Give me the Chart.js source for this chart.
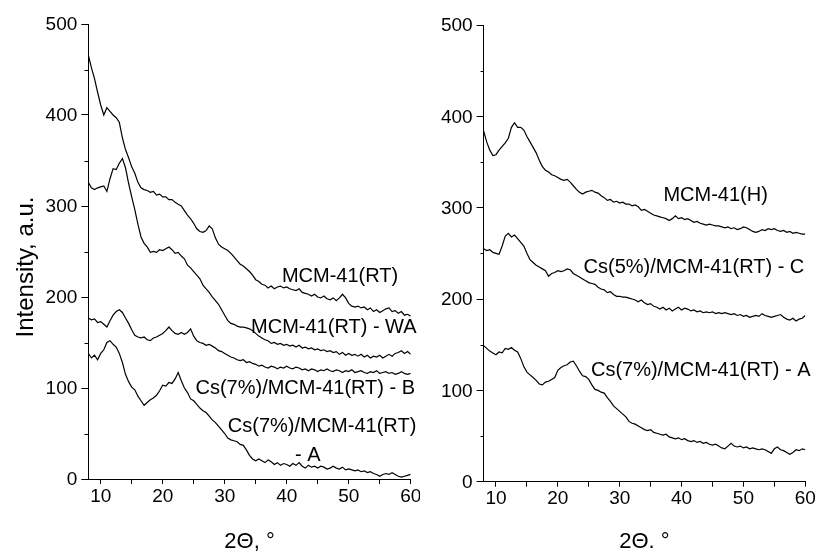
<!DOCTYPE html>
<html>
<head>
<meta charset="utf-8">
<script src="https://cdn.jsdelivr.net/npm/chart.js@4.4.1/dist/chart.umd.min.js"></script>
<style>
  body { margin: 0; background: #fff; }
  #wrap { position: relative; width: 819px; height: 553px; }
  canvas { position: absolute; top: 0; }
</style>
</head>
<body>
<div id="wrap">
  <canvas id="left" width="420" height="553" style="left:0"></canvas>
  <canvas id="right" width="404" height="553" style="left:415px"></canvas>
</div>
<script>
// 2 theta, degrees
const theta = [
  8, 8.5, 9, 9.5, 10, 10.5, 11, 11.5, 12, 12.5,
  13, 13.5, 14, 14.5, 15, 15.5, 16, 16.5, 17, 17.5,
  18, 18.5, 19, 19.5, 20, 20.5, 21, 21.5, 22, 22.5,
  23, 23.5, 24, 24.5, 25, 25.5, 26, 26.5, 27, 27.5,
  28, 28.5, 29, 29.5, 30, 30.5, 31, 31.5, 32, 32.5,
  33, 33.5, 34, 34.5, 35, 35.5, 36, 36.5, 37, 37.5,
  38, 38.5, 39, 39.5, 40, 40.5, 41, 41.5, 42, 42.5,
  43, 43.5, 44, 44.5, 45, 45.5, 46, 46.5, 47, 47.5,
  48, 48.5, 49, 49.5, 50, 50.5, 51, 51.5, 52, 52.5,
  53, 53.5, 54, 54.5, 55, 55.5, 56, 56.5, 57, 57.5,
  58, 58.5, 59, 59.5, 60
];

// left panel
const mcmRT = [
  466, 452, 440, 425, 411, 400, 408, 404, 400, 397,
  392, 375, 362, 353, 343, 336, 326, 320, 318, 317,
  315, 316, 312, 313, 310, 310, 307, 307, 304, 302,
  300, 295, 290, 286, 281, 275, 272, 271, 273, 278,
  275, 265, 258, 255, 253, 251, 248, 244, 240, 236,
  234, 231, 228, 224, 219, 217, 214, 213, 210, 212,
  209, 211, 212, 210, 211, 209, 208, 207, 209, 205,
  204, 203, 201, 203, 200, 199, 201, 198, 197, 199,
  196, 199, 203, 199, 193, 190, 189, 190, 188, 189,
  186, 188, 184, 186, 183, 185, 187, 188, 184, 185,
  182, 184, 180, 181, 179
];
const mcmRTwa = [
  326, 320, 318, 320, 321, 322, 316, 330, 341, 340,
  347, 352, 342, 325, 310, 296, 280, 266, 259, 255,
  249, 250, 249, 252, 251, 253, 255, 252, 248, 249,
  245, 242, 235, 232, 228, 224, 220, 213, 209, 205,
  200, 196, 192, 186, 180, 174, 171, 170, 168, 167,
  167, 166, 165, 163, 160, 157, 155, 153, 152, 149,
  150, 148, 149, 147, 148, 146, 147, 145, 147, 144,
  145, 143, 144, 142, 143, 141, 142, 140, 141, 139,
  140, 137, 139, 136, 138, 136, 137, 135, 137, 134,
  136, 133, 135, 134, 136, 133, 135, 137, 135, 138,
  139, 141, 138, 140, 137
];
const cs7B = [
  177, 175, 176, 172, 173, 170, 167, 174, 180, 184,
  186, 183, 177, 171, 164, 158, 156, 155, 156, 153,
  152, 155, 156, 158, 160, 163, 167, 163, 160, 159,
  161, 159, 161, 165, 157, 152, 150, 149, 147, 148,
  146, 144, 141, 140, 138, 136, 134, 133, 131, 130,
  131, 128, 129, 127, 126, 124, 125, 123, 122, 124,
  123, 121, 123, 122, 124, 122, 121, 123, 122, 120,
  121, 119, 121, 120, 118, 120, 119, 121, 119, 118,
  120, 119, 117, 119, 118, 120, 117, 118, 119, 117,
  116, 118, 117, 119, 116, 117, 118, 116, 117, 115,
  116, 118, 116, 115, 116
];
const cs7A_left = [
  138, 133, 136, 131, 138, 142, 150, 152, 148, 145,
  138, 128, 115, 107, 101, 98, 91, 86, 81, 84,
  87, 89, 92, 97, 103, 102, 106, 105, 110, 117,
  108, 100, 95, 88, 86, 82, 78, 75, 73, 69,
  65, 62, 58, 54, 50, 45, 43, 42, 41, 38,
  37, 32, 26, 22, 20, 22, 20, 18, 21, 19,
  16, 18, 15, 17, 16, 14, 17, 15, 18, 14,
  12, 15, 13, 14, 12, 14, 13, 11, 12, 14,
  12, 11, 13, 10, 11, 10, 9, 10, 8, 9,
  7, 8, 6, 5, 3, 5, 6, 5, 7, 5,
  3, 2, 3, 4, 5
];

// right panel
const mcmH = [
  384, 372, 363, 357, 358, 363, 367, 371, 376, 388,
  393, 388, 388, 385, 378, 372, 366, 360, 352, 345,
  341, 339, 336, 335, 333, 331, 330, 331, 328, 324,
  320, 317, 315, 317, 318, 319, 317, 316, 313, 311,
  308, 309, 306, 307, 305, 306, 304, 304, 302, 303,
  301, 297, 298, 296, 294, 292, 291, 290, 289, 288,
  286, 288, 291, 288, 289, 287, 288, 286, 284, 285,
  283, 282, 281, 282, 281, 280, 280, 279, 278, 279,
  277, 278, 276, 277, 279, 278, 276, 274, 273, 274,
  276, 275, 277, 276, 277, 275, 274, 275, 273, 274,
  272, 273, 272, 271, 271
];
const cs5C = [
  255, 253, 254, 251, 250, 249, 258, 269, 272, 268,
  270, 266, 262, 258, 250, 243, 240, 237, 235, 233,
  231, 225, 228, 229, 231, 230, 231, 233, 232, 228,
  226, 224, 222, 220, 218, 217, 216, 213, 211, 210,
  207, 208, 205, 203, 203, 202, 202, 201, 200, 199,
  197, 199, 196, 194, 195, 192, 191, 189, 191, 188,
  190, 187, 189, 191, 188, 190, 189, 187, 188, 186,
  187, 185, 186, 185, 186, 184, 185, 184, 185, 184,
  183, 184, 182, 183, 181, 182, 180, 181, 182, 181,
  184, 182, 181, 180, 181, 182, 183, 180, 178, 177,
  179, 176, 178, 179, 182
];
const cs7A_right = [
  149, 146, 143, 141, 139, 142, 141, 146, 145, 147,
  144, 142, 135, 126, 120, 117, 114, 111, 107, 106,
  109, 110, 112, 114, 122, 125, 127, 128, 131, 132,
  127, 121, 116, 115, 112, 106, 101, 100, 98, 97,
  92, 88, 83, 80, 77, 74, 71, 66, 64, 63,
  61, 59, 57, 56, 57, 54, 53, 52, 51, 52,
  49, 48, 47, 48, 46, 47, 45, 44, 45, 43,
  44, 42, 43, 41, 40, 41, 39, 37, 36, 39,
  42, 39, 38, 39, 37, 38, 36, 37, 36, 35,
  36, 35, 33, 31, 36, 38, 35, 34, 32, 30,
  32, 35, 34, 36, 35
];

const xTicks = [10, 15, 20, 25, 30, 35, 40, 45, 50, 55, 60];
const yTicks = [0, 100, 200, 300, 400, 500];
const yMinor = [50, 150, 250, 350, 450];

// curve labels, placed in data units
const leftNotes = [
  { text: 'MCM-41(RT)', x: 48.6, y: 223 },
  { text: 'MCM-41(RT) - WA', x: 47.6, y: 167 },
  { text: 'Cs(7%)/MCM-41(RT) - B', x: 43, y: 99 },
  { text: 'Cs(7%)/MCM-41(RT)', x: 45.7, y: 58 },
  { text: '- A', x: 43.4, y: 26 }
];
const rightNotes = [
  { text: 'MCM-41(H)', x: 45.5, y: 313 },
  { text: 'Cs(5%)/MCM-41(RT) - C', x: 42, y: 234 },
  { text: 'Cs(7%)/MCM-41(RT) - A', x: 43.1, y: 122 }
];

const FONT = '"Liberation Sans", Arial, sans-serif';

function pts(ys) {
  return theta.map((t, i) => ({ x: t, y: ys[i] }));
}

function line(ys) {
  return {
    data: pts(ys),
    borderColor: '#000',
    borderWidth: 1.2,
    pointRadius: 0,
    tension: 0,
    fill: false
  };
}

// labels + minor y ticks + optional y title
const extras = {
  id: 'extras',
  afterDraw(chart, args, opts) {
    const ctx = chart.ctx;
    const xs = chart.scales.x, ys = chart.scales.y;
    const area = chart.chartArea;
    ctx.save();
    ctx.strokeStyle = '#000';
    ctx.lineWidth = 1;
    ctx.beginPath();
    yMinor.forEach(v => {
      const p = Math.round(ys.getPixelForValue(v)) + 0.5;
      ctx.moveTo(Math.round(area.left) - 3.5, p);
      ctx.lineTo(Math.round(area.left), p);
    });
    ctx.stroke();

    ctx.fillStyle = '#000';
    ctx.font = '20px ' + FONT;
    ctx.textAlign = 'center';
    ctx.textBaseline = 'middle';
    opts.notes.forEach(n => {
      ctx.fillText(n.text, xs.getPixelForValue(n.x), ys.getPixelForValue(n.y));
    });

    if (opts.yTitle) {
      ctx.translate(26, 267);
      ctx.rotate(-Math.PI / 2);
      ctx.font = '24px ' + FONT;
      ctx.fillText(opts.yTitle, 0, 0);
    }
    ctx.restore();
  }
};

function makePanel(id, series, notes, geo) {
  new Chart(document.getElementById(id), {
    type: 'line',
    data: { datasets: series.map(line) },
    plugins: [extras],
    options: {
      responsive: false,
      devicePixelRatio: 1,
      animation: false,
      layout: { padding: { top: geo.top, right: geo.right, left: 0, bottom: 0 } },
      plugins: {
        legend: { display: false },
        tooltip: { enabled: false },
        extras: { notes: notes, yTitle: geo.yTitle }
      },
      scales: {
        x: {
          type: 'linear',
          min: 8,
          max: 60,
          afterBuildTicks: s => { s.ticks = xTicks.map(v => ({ value: v })); },
          afterFit: s => {
            s.height = geo.xHeight;
            s.paddingLeft = 0; s.paddingRight = 0;
          },
          grid: { drawOnChartArea: false, drawTicks: true, tickLength: 5, color: '#000' },
          border: { display: true, color: '#000', width: 1 },
          ticks: {
            autoSkip: false,
            maxRotation: 0,
            padding: 1,
            color: '#000',
            font: { family: FONT, size: 19 },
            callback: v => (v % 10 === 0 ? v : '')
          },
          title: {
            display: true,
            text: geo.xTitle,
            color: '#000',
            font: { family: FONT, size: 22, lineHeight: 1 },
            padding: 0
          }
        },
        y: {
          min: 0,
          max: 500,
          afterBuildTicks: s => { s.ticks = yTicks.map(v => ({ value: v })); },
          afterFit: s => {
            s.width = geo.yWidth;
            s.paddingTop = 0; s.paddingBottom = 0;
          },
          grid: { drawOnChartArea: false, drawTicks: true, tickLength: 7, color: '#000' },
          border: { display: true, color: '#000', width: 1 },
          ticks: {
            padding: 4,
            labelOffset: 1,
            color: '#000',
            font: { family: FONT, size: 19 }
          }
        }
      }
    }
  });
}

makePanel('left', [mcmRT, mcmRTwa, cs7B, cs7A_left], leftNotes, {
  top: 24, right: 9.3, xHeight: 74, yWidth: 88.3,
  xTitle: '2Θ, °', yTitle: 'Intensity, a.u.'
});
makePanel('right', [mcmH, cs5C, cs7A_right], rightNotes, {
  top: 25, right: 13.7, xHeight: 71.3, yWidth: 68.6,
  xTitle: '2Θ. °', yTitle: null
});
</script>
</body>
</html>
